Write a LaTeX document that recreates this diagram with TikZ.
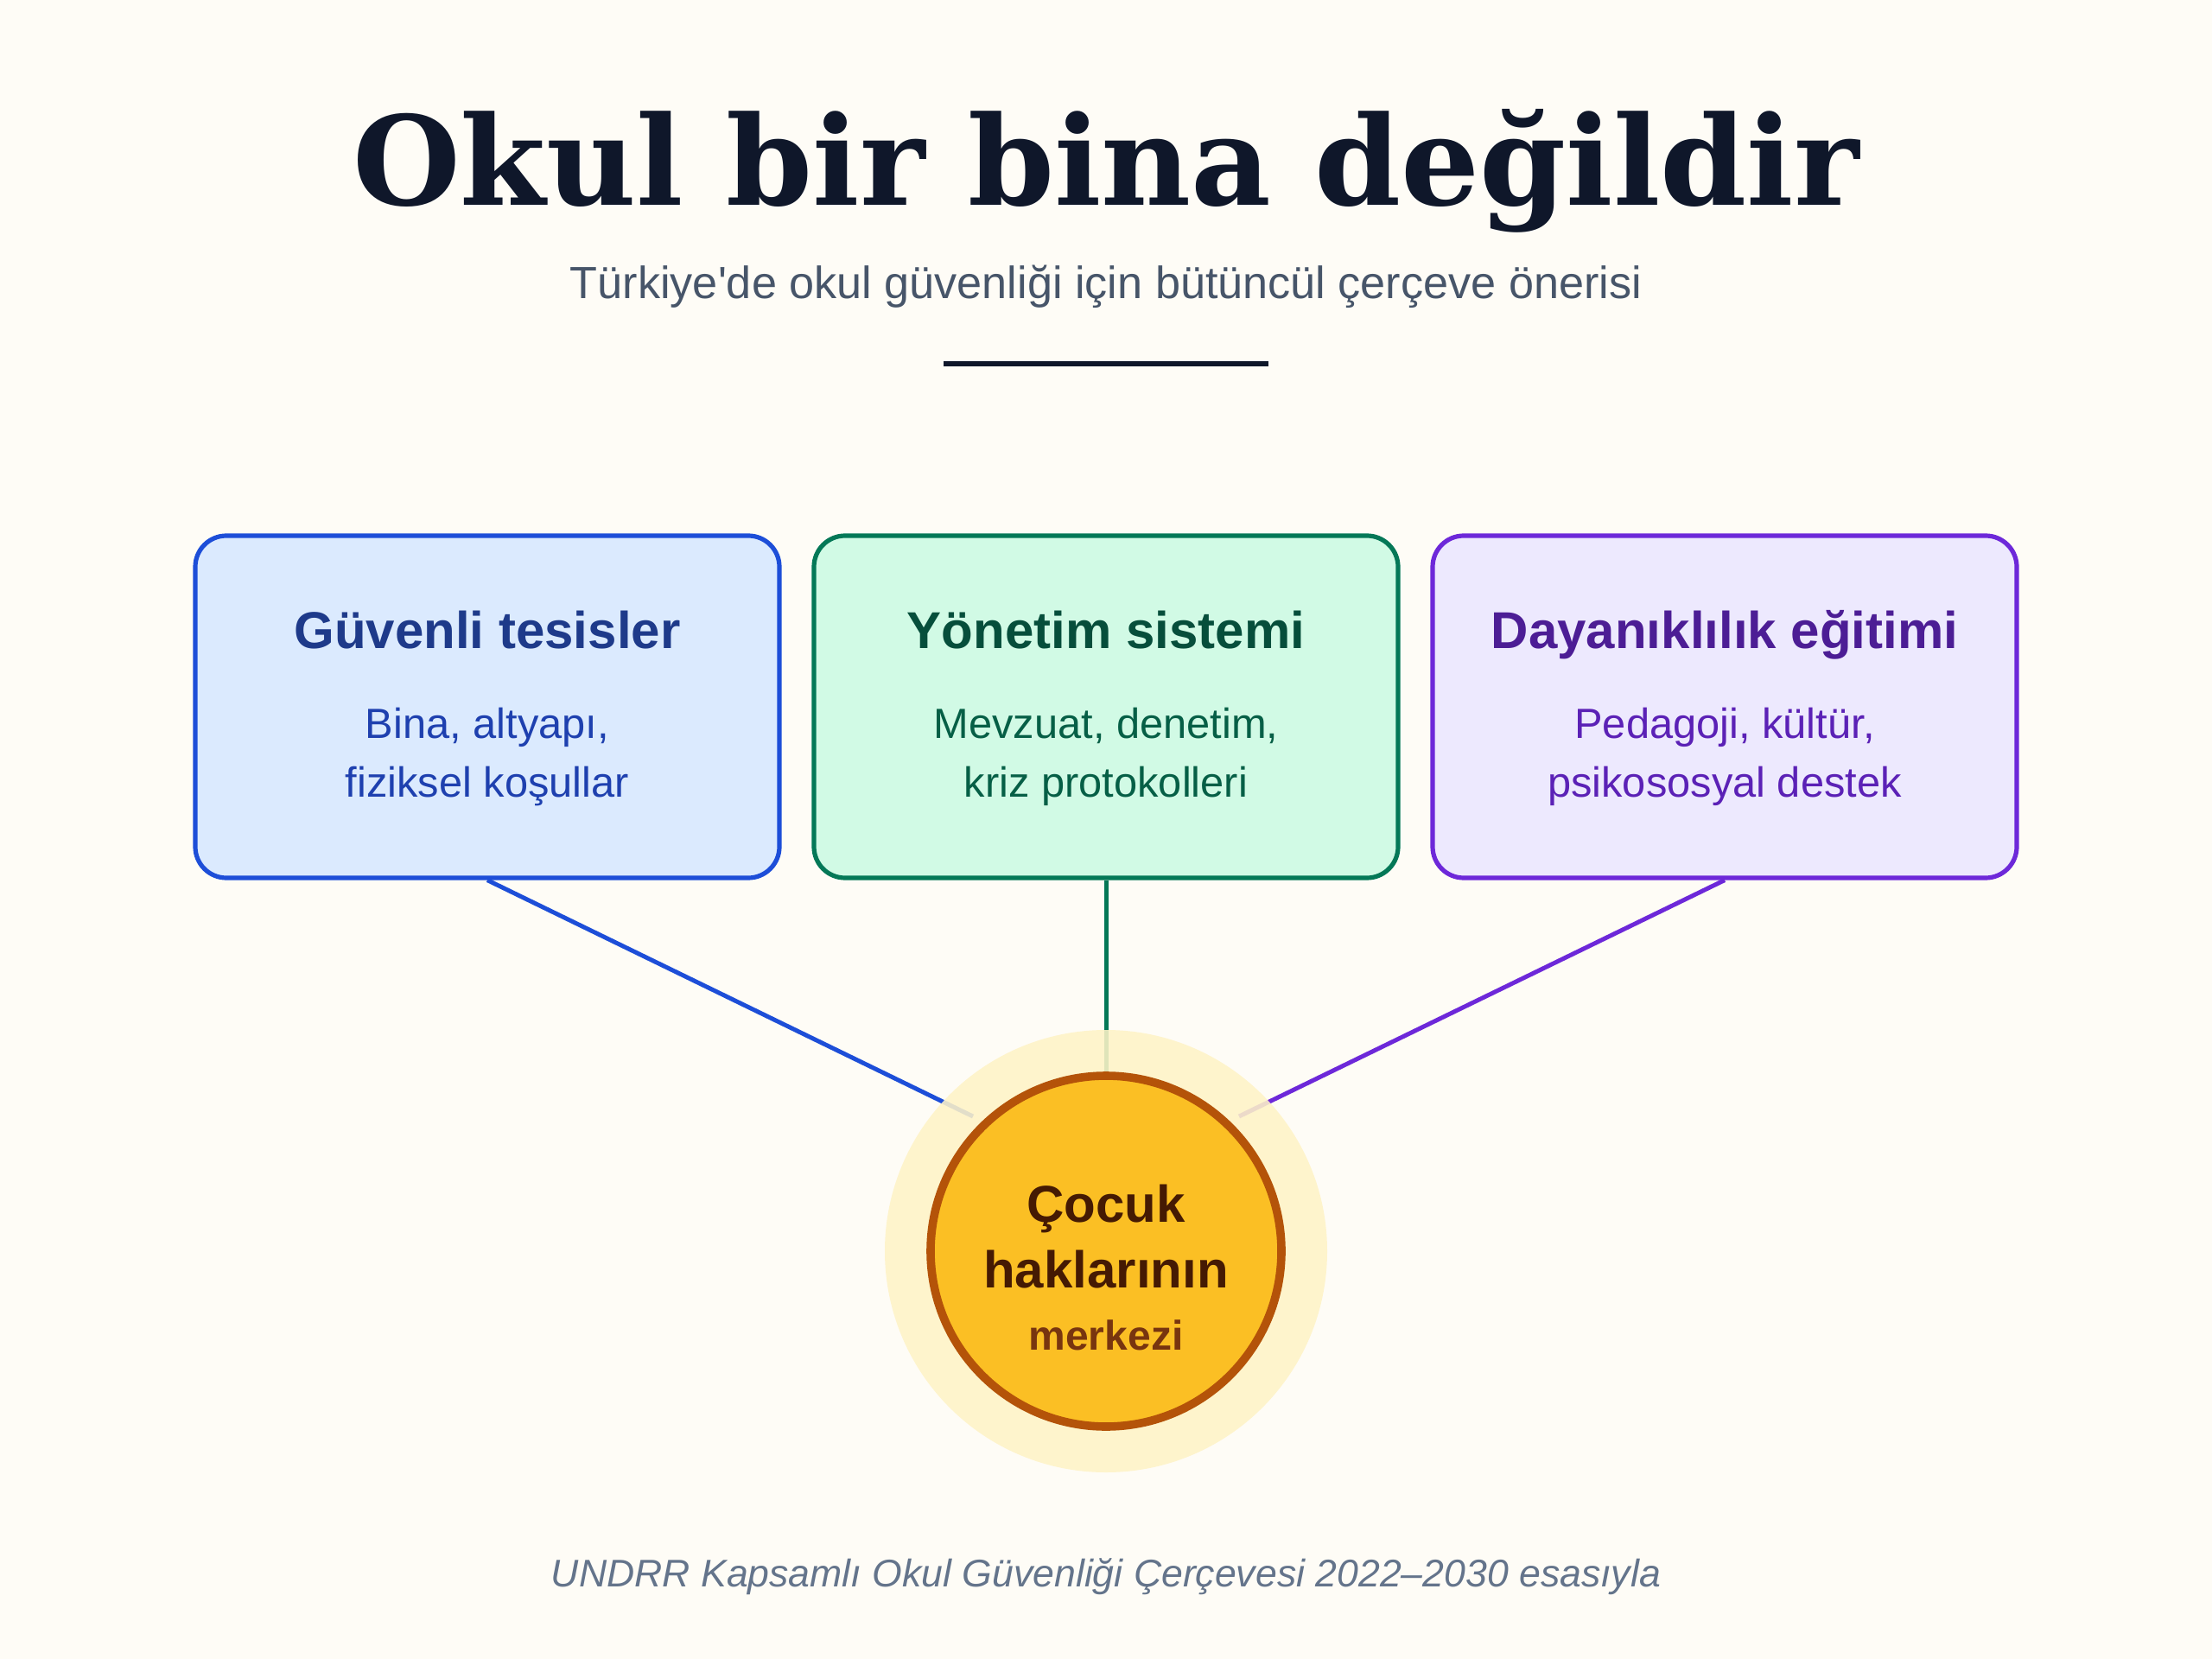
\documentclass[tikz,border=0pt]{standalone}
\usepackage{fontspec}
\setmainfont{Liberation Sans}[Ligatures=TeXOff]
\newfontfamily\titlefont{DejaVu Serif}
\definecolor{bg}{HTML}{FEFCF6}
\definecolor{ink}{HTML}{0F172A}
\definecolor{subink}{HTML}{475569}
\definecolor{footink}{HTML}{64748B}
\definecolor{bluefill}{HTML}{DBEAFE}
\definecolor{bluedraw}{HTML}{1D4ED8}
\definecolor{bluetitle}{HTML}{1E3A8A}
\definecolor{bluetext}{HTML}{1E40AF}
\definecolor{greenfill}{HTML}{D1FAE5}
\definecolor{greendraw}{HTML}{047857}
\definecolor{greentitle}{HTML}{064E3B}
\definecolor{greentext}{HTML}{065F46}
\definecolor{violetfill}{HTML}{EDE9FE}
\definecolor{violetdraw}{HTML}{6D28D9}
\definecolor{violettitle}{HTML}{4C1D95}
\definecolor{violettext}{HTML}{5B21B6}
\definecolor{halo}{HTML}{FEF3C7}
\definecolor{hubfill}{HTML}{FBBF24}
\definecolor{hubdraw}{HTML}{B45309}
\definecolor{hubtitle}{HTML}{451A03}
\definecolor{hubtext}{HTML}{78350F}
\begin{document}
\begin{tikzpicture}[x=1pt,y=-1pt,
  txt/.style={anchor=base,inner sep=0pt,outer sep=0pt},
  pillar/.style={rectangle,rounded corners=18pt,line width=2.6pt,minimum width=338pt,minimum height=198pt,inner sep=0pt},
  ptitle/.style={txt,font=\fontsize{30}{36}\selectfont\bfseries},
  ptext/.style={txt,font=\fontsize{24.4}{29}\selectfont},
  link/.style={line width=2.5pt},
  hubtxt/.style={txt,font=\fontsize{30}{36}\selectfont\bfseries,text=hubtitle}]
\useasboundingbox[fill=bg] (0,0) rectangle (1280,960);
% title block
\node[txt,font=\titlefont\fontsize{71.6}{86}\selectfont\bfseries,text=ink] (title) at (640,119) {Okul bir bina değildir};
\node[txt,font=\fontsize{26.1}{31}\selectfont,text=subink] (subtitle) at (640,173) {Türkiye'de okul güvenliği için bütüncül çerçeve önerisi};
\coordinate (ruleL) at (546,210.5);
\coordinate (ruleR) at (734,210.5);
\draw[ink,line width=3pt] (ruleL) -- (ruleR);
% pillars
\node[pillar,draw=bluedraw,fill=bluefill] (b1) at (282,409) {};
\node[pillar,draw=greendraw,fill=greenfill] (b2) at (640,409) {};
\node[pillar,draw=violetdraw,fill=violetfill] (b3) at (998,409) {};
\node[ptitle,text=bluetitle] (b1t) at (282,375) {Güvenli tesisler};
\node[ptext,text=bluetext] (b1a) at (282,427) {Bina, altyapı,};
\node[ptext,text=bluetext] (b1b) at (282,461) {fiziksel koşullar};
\node[ptitle,text=greentitle] (b2t) at (640,375) {Yönetim sistemi};
\node[ptext,text=greentext] (b2a) at (640,427) {Mevzuat, denetim,};
\node[ptext,text=greentext] (b2b) at (640,461) {kriz protokolleri};
\node[ptitle,text=violettitle] (b3t) at (998,375) {Dayanıklılık eğitimi};
\node[ptext,text=violettext] (b3a) at (998,427) {Pedagoji, kültür,};
\node[ptext,text=violettext] (b3b) at (998,461) {psikososyal destek};
% connectors
\coordinate (e1) at (563,646);
\coordinate (e2) at (640,622);
\coordinate (e3) at (717,646);
\draw[link,bluedraw] (b1.south) -- (e1);
\draw[link,greendraw] (b2.south) -- (e2);
\draw[link,violetdraw] (b3.south) -- (e3);
% hub
\node[circle,fill=halo,fill opacity=0.88,minimum size=256pt,inner sep=0pt] (halo) at (640,724) {};
\node[circle,fill=hubfill,draw=hubdraw,line width=4.8pt,minimum size=203pt,inner sep=0pt] (hub) at (640,724) {};
\node[hubtxt] (h1) at (640,707) {Çocuk};
\node[hubtxt] (h2) at (640,745) {haklarının};
\node[txt,font=\fontsize{24}{29}\selectfont\bfseries,text=hubtext] (h3) at (640,781) {merkezi};
% footer
\node[txt,font=\fontsize{22.3}{26}\selectfont\itshape,text=footink] (foot) at (640,918) {UNDRR Kapsamlı Okul Güvenliği Çerçevesi 2022–2030 esasıyla};
\end{tikzpicture}
\end{document}
